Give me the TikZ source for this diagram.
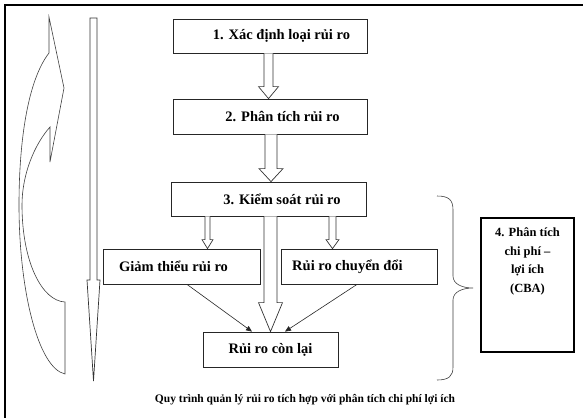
\documentclass[tikz,border=0pt]{standalone}
\usepackage{fontspec}
\setmainfont{Liberation Serif}
\usetikzlibrary{calc,arrows.meta}
\newcommand\hollowarrow[5]{%
  \path #1 coordinate (hastart) #2 coordinate (haend);
  \draw[hollow] let \p1=(hastart), \p2=(haend) in
   (\x1-#3pt,\y1) -- (\x1-#3pt,\y2+#5pt) -- (\x1-#4pt,\y2+#5pt) -- (\x1,\y2)
   -- (\x1+#4pt,\y2+#5pt) -- (\x1+#3pt,\y2+#5pt) -- (\x1+#3pt,\y1);}
\begin{document}
\begin{tikzpicture}[x=1pt,y=-1pt,
  stepbox/.style={draw=black!85,line width=0.8pt,inner sep=0pt,
    font=\fontsize{14.5}{17}\selectfont\bfseries},
  hollow/.style={draw=black!80,line width=0.7pt,fill=white},
  thinarrow/.style={draw=black!85,line width=0.6pt,-{Triangle[length=6pt,width=5pt]}},
  shape line/.style={draw=black!75,line width=0.6pt}]
\useasboundingbox (0,0) rectangle (583,418);
\fill[white] (0,0) rectangle (583,418);
% frame
\draw[line width=2.2pt] (4,5) -- (583,5);
\draw[line width=1.6pt] (5,4) -- (5,418);
% boxes
\node[stepbox,minimum width=194pt,minimum height=34pt] (b1) at (270,36) {\hspace*{23pt}1. Xác định loại rủi ro};
\node[stepbox,minimum width=194pt,minimum height=35pt] (b2) at (270,116.5) {\hspace*{25pt}2. Phân tích rủi ro};
\node[stepbox,minimum width=195pt,minimum height=34pt] (b3) at (268.5,199) {\hspace*{27pt}3. Kiểm soát rủi ro};
\node[stepbox,minimum width=157pt,minimum height=35pt] (g) at (181.5,266.5) {Giảm thiểu rủi ro\hspace*{16pt}};
\node[stepbox,minimum width=156pt,minimum height=35pt] (c) at (359,266.5) {Rủi ro chuyển đổi\hspace*{23pt}};
\node[stepbox,minimum width=135pt,minimum height=35pt] (r) at (270.5,349.5) {Rủi ro còn lại};
\node[draw=black,line width=1.1pt,inner sep=4pt] (b4) at (527.5,285)
  {\parbox[t][126pt][t]{85pt}{\centering\fontsize{12.5}{18.5}\selectfont\bfseries\vspace*{6pt}4. Phân tích\\chi phí –\\lợi ích\\(CBA)}};
% hollow block arrows
\hollowarrow{($(b1.south)+(-1.5,0)$)}{($(b2.north)+(-1.5,0)$)}{4.5}{10}{12}
\hollowarrow{($(b2.south)+(1,0)$)}{($(b3.north)+(2.5,0)$)}{6}{12}{13}
\hollowarrow{($(b3.south)+(-61,0)$)}{($(g.north)+(26,0)$)}{2.5}{5.5}{9}
\hollowarrow{($(b3.south)+(64,0)$)}{($(c.north)+(-26.5,0)$)}{3.5}{6.5}{9}
\hollowarrow{($(b3.south)+(2,0)$)}{($(r.north)+(0,0)$)}{6.5}{12}{29}
% thin arrows
\draw[thinarrow] ($(g.south)+(5.5,0)$) -- ($(r.north)+(-18.5,0)$);
\draw[thinarrow] ($(c.south)+(-2,0)$) -- ($(r.north)+(14.5,0)$);
% left long down arrow
\draw[hollow] (90,18) -- (97,18) -- (97,280) -- (100,280) -- (93.5,381) -- (87,280) -- (90,280) -- cycle;
% curved arrow
\draw[shape line] (49,17) -- (64,88) -- (50,162) -- (50,127)
  .. controls (34,145) and (22,175) .. (22,205)
  .. controls (22,262) and (42,301) .. (65,302) -- (65,374)
  .. controls (38,368) and (19,290) .. (19,205)
  .. controls (19,140) and (28,80) .. (49,53) -- cycle;
% brace
\draw[shape line] (437,196) .. controls (449,196) and (453,200) .. (453,210) -- (453,276)
  .. controls (453,284) and (462,288) .. (473,288)
  .. controls (462,288) and (453,292) .. (453,300) -- (453,367)
  .. controls (453,376) and (449,380) .. (437,380);
% caption
\node[font=\fontsize{11.5}{13}\selectfont\bfseries] (cap) at (305,400) {Quy trình quản lý rủi ro tích hợp với phân tích chi phí lợi ích};
\end{tikzpicture}
\end{document}
